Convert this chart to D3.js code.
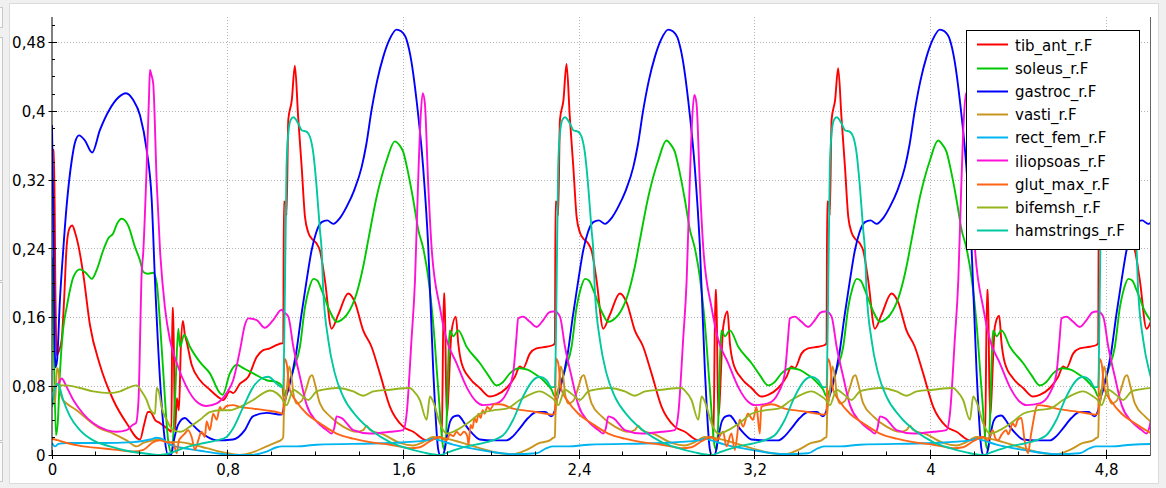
<!DOCTYPE html>
<html><head><meta charset="utf-8">
<script src="https://cdn.jsdelivr.net/npm/d3@7"></script>
<style>
html,body{margin:0;padding:0;background:#f0f0f0;}
svg{display:block;}
text{font-family:"DejaVu Sans",sans-serif;}
</style></head><body>
<svg id="c" width="1166" height="488"></svg>
<script>
// ---- data (time, value) ----
const tibAnt = [
[0,.355],[.009,.355],[.016,.180],[.021,.116],[.030,.120],[.044,.134],[.055,.180],[.067,.244],[.080,.264],[.092,.267],[.105,.259],[.120,.244],[.142,.211],[.173,.151],[.218,.105],[.279,.064],[.340,.037],[.401,.018],[.419,.035],[.437,.050],[.448,.050],[.469,.041],[.492,.037],[.514,.033],[.533,.029],[.544,.027],[.548,.171],[.552,.171],[.560,.029],[.569,.066],[.578,.052],[.587,.128],[.596,.156],[.605,.140],[.613,.132],[.636,.105],[.674,.087],[.719,.076],[.765,.066],[.780,.064],[.810,.074],[.825,.072],[.856,.083],[.894,.091],[.932,.114],[.962,.122],[.992,.124],[1.023,.128],[1.049,.130],
[1.053,.130],[1.056,.295],[1.064,.293],[1.068,.279],[1.076,.390],[1.092,.413],[1.106,.453],[1.121,.393],[1.137,.335],[1.152,.277],[1.167,.259],[1.182,.252],[1.205,.246],[1.220,.238],[1.243,.203],[1.273,.147],[1.303,.163],[1.349,.188],[1.379,.178],[1.417,.145],[1.455,.126],[1.493,.095],[1.539,.056],[1.599,.033],[1.645,.027],[1.706,.017],[1.749,.020],[1.775,.021],[1.784,.188],[1.788,.188],[1.797,.045],[1.820,.145],[1.839,.161],[1.850,.130],[1.865,.107],[1.903,.089],[1.948,.078],[1.994,.068],[2.024,.070],[2.070,.078],[2.108,.091],[2.130,.103],[2.145,.101],[2.176,.118],[2.206,.124],[2.252,.126],[2.282,.128],
[2.290,.130],[2.293,.295],[2.301,.293],[2.305,.279],[2.313,.390],[2.329,.413],[2.343,.455],[2.358,.393],[2.374,.335],[2.389,.277],[2.404,.259],[2.419,.252],[2.442,.246],[2.457,.238],[2.480,.203],[2.510,.147],[2.540,.163],[2.586,.188],[2.616,.178],[2.654,.145],[2.692,.126],[2.730,.095],[2.776,.056],[2.836,.033],[2.882,.027],[2.943,.017],[2.986,.020],[3.012,.021],[3.021,.192],[3.025,.192],[3.034,.045],[3.057,.150],[3.076,.167],[3.087,.130],[3.102,.107],[3.140,.089],[3.185,.078],[3.231,.068],[3.261,.070],[3.307,.078],[3.345,.091],[3.367,.103],[3.382,.101],[3.413,.118],[3.443,.124],[3.489,.126],[3.519,.128],
[3.527,.130],[3.530,.295],[3.538,.293],[3.542,.279],[3.550,.390],[3.566,.413],[3.580,.450],[3.595,.393],[3.611,.335],[3.626,.277],[3.641,.259],[3.656,.252],[3.679,.246],[3.694,.238],[3.717,.203],[3.747,.147],[3.777,.163],[3.823,.188],[3.853,.178],[3.891,.145],[3.929,.126],[3.967,.095],[4.013,.056],[4.073,.033],[4.119,.027],[4.180,.017],[4.223,.020],[4.249,.021],[4.258,.192],[4.262,.192],[4.271,.045],[4.294,.150],[4.313,.162],[4.324,.130],[4.339,.107],[4.377,.089],[4.422,.078],[4.468,.068],[4.498,.070],[4.544,.078],[4.582,.091],[4.604,.103],[4.619,.101],[4.650,.118],[4.680,.124],[4.726,.126],[4.756,.128],
[4.764,.130],[4.767,.295],[4.775,.293],[4.779,.279],[4.787,.390],[4.803,.413],[4.817,.453],[4.832,.393],[4.848,.335],[4.863,.277],[4.878,.259],[4.893,.252],[4.916,.246],[4.931,.238],[4.954,.203],[4.984,.147],[5.014,.163]
];
const soleus = [
[0,.230],[.007,.145],[.018,.023],[.027,.041],[.036,.095],[.050,.145],[.067,.172],[.082,.192],[.097,.207],[.127,.216],[.158,.211],[.181,.205],[.203,.215],[.233,.238],[.256,.252],[.279,.258],[.296,.269],[.317,.275],[.332,.273],[.347,.267],[.378,.242],[.400,.227],[.416,.213],[.438,.211],[.461,.212],[.477,.200],[.492,.153],[.507,.095],[.529,.017],[.545,.002],[.560,.064],[.575,.147],[.583,.126],[.602,.140],[.628,.126],[.674,.108],[.719,.095],[.765,.072],[.777,.070],[.810,.095],[.841,.105],[.871,.101],[.916,.095],[.977,.087],[1.023,.085],[1.050,.079],
[1.053,.068],[1.068,.076],[1.099,.099],[1.129,.126],[1.152,.172],[1.171,.194],[1.190,.205],[1.208,.203],[1.228,.192],[1.266,.167],[1.296,.155],[1.317,.157],[1.342,.163],[1.387,.188],[1.417,.219],[1.440,.250],[1.478,.300],[1.524,.343],[1.561,.365],[1.581,.361],[1.599,.353],[1.622,.328],[1.645,.297],[1.668,.262],[1.690,.241],[1.713,.207],[1.736,.153],[1.759,.076],[1.781,.010],[1.790,.006],[1.812,.145],[1.827,.138],[1.850,.145],[1.888,.126],[1.948,.107],[1.986,.093],[2.024,.081],[2.054,.085],[2.085,.095],[2.130,.101],[2.168,.099],[2.206,.093],[2.237,.087],[2.259,.081],[2.275,.076],
[2.290,.068],[2.305,.076],[2.336,.099],[2.366,.126],[2.389,.172],[2.408,.194],[2.427,.205],[2.445,.203],[2.465,.192],[2.503,.167],[2.533,.155],[2.554,.157],[2.579,.163],[2.624,.188],[2.654,.219],[2.677,.250],[2.715,.300],[2.761,.343],[2.798,.366],[2.818,.361],[2.836,.353],[2.859,.328],[2.882,.297],[2.905,.262],[2.927,.241],[2.950,.207],[2.973,.153],[2.996,.076],[3.018,.010],[3.027,.006],[3.049,.145],[3.064,.138],[3.087,.145],[3.125,.126],[3.185,.107],[3.223,.093],[3.261,.081],[3.291,.085],[3.322,.095],[3.367,.101],[3.405,.099],[3.443,.093],[3.474,.087],[3.496,.081],[3.512,.076],
[3.527,.068],[3.542,.076],[3.573,.099],[3.603,.126],[3.626,.172],[3.645,.194],[3.664,.205],[3.682,.203],[3.702,.192],[3.740,.167],[3.770,.155],[3.791,.157],[3.816,.163],[3.861,.188],[3.891,.219],[3.914,.250],[3.952,.300],[3.998,.343],[4.035,.366],[4.055,.361],[4.073,.353],[4.096,.328],[4.119,.297],[4.142,.262],[4.164,.241],[4.187,.207],[4.210,.153],[4.233,.076],[4.255,.010],[4.264,.006],[4.286,.145],[4.301,.138],[4.324,.145],[4.362,.126],[4.422,.107],[4.460,.093],[4.498,.081],[4.528,.085],[4.559,.095],[4.604,.101],[4.642,.099],[4.680,.093],[4.711,.087],[4.733,.081],[4.749,.076],
[4.764,.068],[4.779,.076],[4.810,.099],[4.840,.126],[4.863,.172],[4.882,.194],[4.901,.205],[4.919,.203],[4.939,.192],[4.977,.167],[5.007,.155]
];
const gastroc = [
[0,.384],[.005,.297],[.011,.145],[.016,.102],[.023,.110],[.036,.180],[.051,.238],[.067,.291],[.090,.343],[.105,.364],[.123,.372],[.150,.366],[.183,.352],[.218,.378],[.264,.403],[.302,.416],[.337,.421],[.370,.413],[.401,.395],[.431,.355],[.454,.297],[.469,.203],[.492,.087],[.514,.017],[.528,0],[.542,0],[.555,.017],[.574,.035],[.605,.043],[.628,.038],[.674,.027],[.750,.017],[.824,.018],[.878,.029],[.915,.045],[.977,.049],[1.046,.047],
[1.053,.052],[1.062,.064],[1.076,.076],[1.112,.119],[1.135,.162],[1.160,.204],[1.182,.238],[1.203,.259],[1.228,.271],[1.253,.273],[1.281,.269],[1.312,.276],[1.342,.289],[1.376,.308],[1.410,.335],[1.431,.361],[1.455,.401],[1.481,.436],[1.508,.463],[1.536,.483],[1.569,.495],[1.590,.493],[1.615,.483],[1.636,.459],[1.660,.413],[1.690,.335],[1.713,.244],[1.736,.099],[1.759,.006],[1.768,0],[1.781,0],[1.795,.017],[1.813,.039],[1.831,.045],[1.850,.046],[1.868,.041],[1.888,.033],[1.918,.024],[1.948,.018],[2.009,.017],[2.070,.017],[2.100,.022],[2.130,.031],[2.168,.043],[2.206,.050],[2.246,.050],[2.273,.045],
[2.290,.052],[2.299,.064],[2.313,.076],[2.349,.119],[2.372,.162],[2.397,.204],[2.419,.238],[2.440,.259],[2.465,.271],[2.490,.273],[2.518,.269],[2.549,.276],[2.579,.289],[2.613,.308],[2.647,.335],[2.668,.361],[2.692,.401],[2.718,.436],[2.745,.463],[2.773,.483],[2.806,.495],[2.827,.493],[2.852,.483],[2.873,.459],[2.897,.413],[2.927,.335],[2.950,.244],[2.973,.099],[2.996,.006],[3.005,0],[3.018,0],[3.032,.017],[3.050,.039],[3.068,.045],[3.087,.046],[3.105,.041],[3.125,.033],[3.155,.024],[3.185,.018],[3.246,.017],[3.307,.017],[3.337,.022],[3.367,.031],[3.405,.043],[3.443,.050],[3.483,.050],[3.510,.045],
[3.527,.052],[3.536,.064],[3.550,.076],[3.586,.119],[3.609,.162],[3.634,.204],[3.656,.238],[3.677,.259],[3.702,.271],[3.727,.273],[3.755,.269],[3.786,.276],[3.816,.289],[3.850,.308],[3.884,.335],[3.905,.361],[3.929,.401],[3.955,.436],[3.982,.463],[4.010,.483],[4.043,.495],[4.064,.493],[4.089,.483],[4.110,.459],[4.134,.413],[4.164,.335],[4.187,.244],[4.210,.099],[4.233,.006],[4.242,0],[4.255,0],[4.269,.017],[4.287,.039],[4.305,.045],[4.324,.046],[4.342,.041],[4.362,.033],[4.392,.024],[4.422,.018],[4.483,.017],[4.544,.017],[4.574,.022],[4.604,.031],[4.642,.043],[4.680,.050],[4.720,.050],[4.747,.045],
[4.764,.052],[4.773,.064],[4.787,.076],[4.823,.119],[4.846,.162],[4.871,.204],[4.893,.238],[4.914,.259],[4.939,.271],[4.964,.273],[4.992,.269],[5.023,.276]
];
const vasti = [
[0,.058],[.014,.064],[.023,.101],[.030,.097],[.036,.076],[.050,.064],[.067,.060],[.112,.052],[.173,.039],[.218,.031],[.279,.025],[.340,.017],[.386,.010],[.416,.014],[.461,.017],[.492,.018],[.522,.015],[.583,.015],[.643,.012],[.704,.008],[.780,.003],[.856,0],[.901,.002],[.977,.010],[1.023,.015],[1.046,.018],
[1.053,.021],[1.056,.048],[1.068,.072],[1.080,.103],[1.091,.091],[1.099,.072],[1.114,.060],[1.137,.063],[1.160,.079],[1.175,.091],[1.185,.093],[1.197,.083],[1.220,.060],[1.266,.045],[1.326,.033],[1.387,.027],[1.417,.029],[1.433,.034],[1.448,.029],[1.508,.024],[1.584,.014],[1.645,.011],[1.690,.015],[1.736,.021],[1.797,.019],[1.857,.015],[1.948,.008],[2.039,.002],[2.100,.001],[2.161,.006],[2.221,.014],[2.267,.017],[2.282,.020],
[2.290,.021],[2.293,.048],[2.305,.072],[2.317,.103],[2.328,.091],[2.336,.072],[2.351,.060],[2.374,.063],[2.397,.079],[2.412,.091],[2.422,.093],[2.434,.083],[2.457,.060],[2.503,.045],[2.563,.033],[2.624,.027],[2.654,.029],[2.670,.034],[2.685,.029],[2.745,.024],[2.821,.014],[2.882,.011],[2.927,.015],[2.973,.021],[3.034,.019],[3.094,.015],[3.185,.008],[3.276,.002],[3.337,.001],[3.398,.006],[3.458,.014],[3.504,.017],[3.519,.020],
[3.527,.021],[3.530,.048],[3.542,.072],[3.554,.103],[3.565,.091],[3.573,.072],[3.588,.060],[3.611,.063],[3.634,.079],[3.649,.091],[3.659,.093],[3.671,.083],[3.694,.060],[3.740,.045],[3.800,.033],[3.861,.027],[3.891,.029],[3.907,.034],[3.922,.029],[3.982,.024],[4.058,.014],[4.119,.011],[4.164,.015],[4.210,.021],[4.271,.019],[4.331,.015],[4.422,.008],[4.513,.002],[4.574,.001],[4.635,.006],[4.695,.014],[4.741,.017],[4.756,.020],
[4.764,.021],[4.767,.048],[4.779,.072],[4.791,.103],[4.802,.091],[4.810,.072],[4.825,.060],[4.848,.063],[4.871,.079],[4.886,.091],[4.896,.093],[4.908,.083],[4.931,.060],[4.977,.045],[5.037,.033]
];
const rectFem = [
[0,.014],[.014,.010],[.029,.013],[.067,.014],[.218,.014],[.370,.015],[.446,.018],[.477,.020],[.507,.018],[.537,.012],[.598,.008],[.674,.005],[.750,.002],[.825,0],[.901,0],[.977,.004],[1.023,.009],[1.046,.010],
[1.053,.010],[1.114,.010],[1.205,.012],[1.539,.014],[1.706,.017],[1.736,.019],[1.766,.017],[1.827,.012],[1.948,.006],[2.100,.001],[2.206,.002],[2.252,.008],[2.282,.010],
[2.290,.010],[2.351,.010],[2.442,.012],[2.776,.014],[2.943,.017],[2.973,.019],[3.003,.017],[3.064,.012],[3.185,.006],[3.337,.001],[3.443,.002],[3.489,.008],[3.519,.010],
[3.527,.010],[3.588,.010],[3.679,.012],[4.013,.014],[4.180,.017],[4.210,.019],[4.240,.017],[4.301,.012],[4.422,.006],[4.574,.001],[4.680,.002],[4.726,.008],[4.756,.010],
[4.764,.010],[4.825,.010],[4.916,.012],[5.250,.014]
];
const iliopsoas = [
[0,.074],[.014,.079],[.029,.083],[.044,.089],[.067,.079],[.097,.064],[.142,.048],[.188,.037],[.249,.029],[.294,.027],[.340,.029],[.367,.035],[.382,.037],[.394,.064],[.401,.134],[.407,.203],[.416,.238],[.431,.335],[.442,.419],[.446,.448],[.453,.442],[.461,.432],[.477,.316],[.492,.238],[.514,.172],[.537,.134],[.568,.107],[.613,.079],[.659,.062],[.704,.057],[.750,.060],[.795,.072],[.825,.087],[.856,.122],[.878,.151],[.894,.159],[.932,.157],[.969,.148],[1.007,.157],[1.046,.169],
[1.053,.167],[1.076,.161],[1.099,.126],[1.129,.091],[1.160,.058],[1.205,.039],[1.251,.029],[1.273,.025],[1.285,.031],[1.296,.045],[1.319,.043],[1.372,.029],[1.448,.025],[1.539,.027],[1.599,.029],[1.615,.048],[1.637,.134],[1.653,.203],[1.666,.308],[1.678,.390],[1.688,.421],[1.698,.409],[1.713,.316],[1.729,.240],[1.766,.172],[1.797,.134],[1.842,.107],[1.888,.079],[1.933,.062],[1.963,.058],[2.024,.060],[2.070,.072],[2.100,.095],[2.114,.134],[2.123,.159],[2.145,.161],[2.176,.155],[2.206,.149],[2.237,.157],[2.264,.166],[2.282,.167],
[2.290,.167],[2.313,.161],[2.336,.126],[2.366,.091],[2.397,.058],[2.442,.039],[2.488,.029],[2.510,.025],[2.522,.031],[2.533,.045],[2.556,.043],[2.609,.029],[2.685,.025],[2.776,.027],[2.836,.029],[2.852,.048],[2.874,.134],[2.890,.203],[2.903,.308],[2.915,.390],[2.925,.419],[2.935,.409],[2.950,.316],[2.966,.240],[3.003,.172],[3.034,.134],[3.079,.107],[3.125,.079],[3.170,.062],[3.200,.058],[3.261,.060],[3.307,.072],[3.337,.095],[3.351,.134],[3.360,.159],[3.382,.161],[3.413,.155],[3.443,.149],[3.474,.157],[3.501,.166],[3.519,.167],
[3.527,.167],[3.550,.161],[3.573,.126],[3.603,.091],[3.634,.058],[3.679,.039],[3.725,.029],[3.747,.025],[3.759,.031],[3.770,.045],[3.793,.043],[3.846,.029],[3.922,.025],[4.013,.027],[4.073,.029],[4.089,.048],[4.111,.134],[4.127,.203],[4.140,.308],[4.152,.390],[4.162,.421],[4.172,.409],[4.187,.316],[4.203,.240],[4.240,.172],[4.271,.134],[4.316,.107],[4.362,.079],[4.407,.062],[4.437,.058],[4.498,.060],[4.544,.072],[4.574,.095],[4.588,.134],[4.597,.159],[4.619,.161],[4.650,.155],[4.680,.149],[4.711,.157],[4.738,.166],[4.756,.167],
[4.764,.167],[4.787,.161],[4.810,.126],[4.840,.091],[4.871,.058],[4.916,.039],[4.962,.029],[4.984,.025],[4.996,.031],[5.007,.045]
];
const glutMax = [
[0,.019],[.029,.017],[.067,.014],[.142,.010],[.218,.008],[.294,.006],[.370,.004],[.416,.006],[.461,.015],[.492,.017],[.522,.015],[.552,.014],[.568,.002],[.578,.017],[.590,.021],[.605,.025],[.620,.029],[.636,.021],[.651,.006],[.666,.017],[.681,.027],[.696,.021],[.704,.039],[.719,.029],[.734,.048],[.750,.041],[.765,.056],[.774,.052],[.795,.057],[.825,.058],[.856,.056],[.916,.054],[.977,.052],[1.038,.049],[1.050,.048],
[1.053,.048],[1.058,.112],[1.068,.107],[1.083,.076],[1.114,.062],[1.160,.048],[1.220,.037],[1.296,.025],[1.372,.019],[1.448,.015],[1.539,.012],[1.630,.008],[1.675,.009],[1.721,.016],[1.766,.021],[1.797,.017],[1.812,.024],[1.827,.022],[1.842,.027],[1.859,.023],[1.876,.027],[1.891,.022],[1.897,.012],[1.906,.035],[1.915,.031],[1.924,.043],[1.933,.038],[1.942,.048],[1.952,.043],[1.961,.052],[1.970,.048],[1.982,.056],[1.995,.053],[2.013,.059],[2.039,.059],[2.100,.054],[2.176,.051],[2.252,.048],[2.275,.047],
[2.290,.048],[2.295,.112],[2.305,.107],[2.320,.076],[2.351,.062],[2.397,.048],[2.457,.037],[2.533,.025],[2.609,.019],[2.685,.015],[2.776,.012],[2.867,.008],[2.912,.009],[2.958,.016],[3.003,.021],[3.026,.017],[3.056,.027],[3.071,.010],[3.094,.025],[3.109,.006],[3.132,.041],[3.147,.033],[3.169,.048],[3.192,.041],[3.208,.056],[3.223,.025],[3.230,.056],[3.253,.058],[3.276,.059],[3.337,.054],[3.413,.051],[3.489,.048],[3.512,.047],
[3.527,.048],[3.532,.112],[3.542,.107],[3.557,.076],[3.588,.062],[3.634,.048],[3.694,.037],[3.770,.025],[3.846,.019],[3.922,.015],[4.013,.012],[4.104,.008],[4.149,.009],[4.195,.016],[4.240,.021],[4.262,.017],[4.284,.029],[4.295,.020],[4.307,.017],[4.325,.024],[4.345,.029],[4.355,.024],[4.375,.037],[4.386,.033],[4.398,.041],[4.414,.043],[4.429,.017],[4.444,.002],[4.459,.025],[4.489,.058],[4.527,.057],[4.574,.054],[4.650,.051],[4.726,.048],[4.749,.047],
[4.764,.048],[4.769,.112],[4.779,.107],[4.794,.076],[4.825,.062],[4.871,.048],[4.931,.037],[5.007,.025]
];
const bifemsh = [
[0,.073],[.018,.083],[.036,.081],[.067,.081],[.127,.078],[.188,.074],[.264,.072],[.310,.074],[.355,.079],[.386,.081],[.408,.074],[.431,.064],[.449,.052],[.469,.048],[.477,.078],[.488,.072],[.499,.056],[.522,.041],[.552,.029],[.583,.027],[.628,.033],[.674,.041],[.719,.050],[.765,.052],[.810,.052],[.856,.056],[.916,.064],[.962,.072],[.992,.075],[1.023,.072],[1.046,.066],
[1.053,.063],[1.068,.058],[1.099,.076],[1.114,.074],[1.144,.068],[1.167,.064],[1.205,.074],[1.235,.076],[1.296,.078],[1.372,.074],[1.417,.069],[1.463,.074],[1.539,.076],[1.630,.078],[1.645,.075],[1.675,.064],[1.706,.041],[1.721,.068],[1.736,.062],[1.766,.037],[1.797,.025],[1.842,.029],[1.903,.039],[1.948,.048],[2.009,.052],[2.070,.054],[2.130,.064],[2.191,.072],[2.221,.074],[2.267,.068],[2.287,.064],
[2.290,.063],[2.305,.058],[2.336,.076],[2.351,.074],[2.381,.068],[2.404,.064],[2.442,.074],[2.472,.076],[2.533,.078],[2.609,.074],[2.654,.069],[2.700,.074],[2.776,.076],[2.867,.078],[2.882,.075],[2.912,.064],[2.943,.041],[2.958,.068],[2.973,.062],[3.003,.037],[3.034,.025],[3.079,.029],[3.140,.039],[3.185,.048],[3.246,.052],[3.307,.054],[3.367,.064],[3.428,.072],[3.458,.074],[3.504,.068],[3.524,.064],
[3.527,.063],[3.542,.058],[3.573,.076],[3.588,.074],[3.618,.068],[3.641,.064],[3.679,.074],[3.709,.076],[3.770,.078],[3.846,.074],[3.891,.069],[3.937,.074],[4.013,.076],[4.104,.078],[4.119,.075],[4.149,.064],[4.180,.041],[4.195,.068],[4.210,.062],[4.240,.037],[4.271,.025],[4.316,.029],[4.377,.039],[4.422,.048],[4.483,.052],[4.544,.054],[4.604,.064],[4.665,.072],[4.695,.074],[4.741,.068],[4.761,.064],
[4.764,.063],[4.779,.058],[4.810,.076],[4.825,.074],[4.855,.068],[4.878,.064],[4.916,.074],[4.946,.076],[5.007,.078]
];
const hamstrings = [
[0,.056],[.009,.072],[.023,.083],[.032,.080],[.051,.064],[.082,.045],[.127,.029],[.188,.017],[.264,.010],[.340,.005],[.416,.002],[.492,0],[.537,.002],[.598,.008],[.674,.013],[.750,.017],[.795,.021],[.825,.031],[.871,.056],[.916,.079],[.954,.089],[.985,.091],[1.023,.083],[1.046,.079],
[1.053,.079],[1.060,.180],[1.068,.335],[1.076,.374],[1.087,.390],[1.099,.393],[1.121,.386],[1.137,.378],[1.160,.376],[1.175,.370],[1.190,.351],[1.205,.312],[1.220,.262],[1.228,.238],[1.235,.192],[1.258,.134],[1.288,.095],[1.326,.068],[1.387,.045],[1.463,.027],[1.539,.015],[1.615,.008],[1.690,.003],[1.766,0],[1.812,.004],[1.888,.010],[1.979,.015],[2.054,.023],[2.100,.041],[2.145,.068],[2.191,.087],[2.221,.091],[2.252,.087],[2.275,.079],
[2.290,.079],[2.297,.180],[2.305,.335],[2.313,.374],[2.324,.390],[2.336,.393],[2.358,.386],[2.374,.378],[2.397,.376],[2.412,.370],[2.427,.351],[2.442,.312],[2.457,.262],[2.465,.238],[2.472,.192],[2.495,.134],[2.525,.095],[2.563,.068],[2.624,.045],[2.700,.027],[2.776,.015],[2.852,.008],[2.927,.003],[3.003,0],[3.049,.004],[3.125,.010],[3.216,.015],[3.291,.023],[3.337,.041],[3.382,.068],[3.428,.087],[3.458,.091],[3.489,.087],[3.512,.079],
[3.527,.079],[3.534,.180],[3.542,.335],[3.550,.374],[3.561,.390],[3.573,.393],[3.595,.386],[3.611,.378],[3.634,.376],[3.649,.370],[3.664,.351],[3.679,.312],[3.694,.262],[3.702,.238],[3.709,.192],[3.732,.134],[3.762,.095],[3.800,.068],[3.861,.045],[3.937,.027],[4.013,.015],[4.089,.008],[4.164,.003],[4.240,0],[4.286,.004],[4.362,.010],[4.453,.015],[4.528,.023],[4.574,.041],[4.619,.068],[4.665,.087],[4.695,.091],[4.726,.087],[4.749,.079],
[4.764,.079],[4.771,.180],[4.779,.335],[4.787,.374],[4.798,.390],[4.810,.393],[4.832,.386],[4.848,.378],[4.871,.376],[4.886,.370],[4.901,.351],[4.916,.312],[4.931,.262],[4.939,.238],[4.946,.192],[4.969,.134],[4.999,.095],[5.037,.068]
];

const seriesNames = ["tib_ant_r.F","soleus_r.F","gastroc_r.F","vasti_r.F","rect_fem_r.F","iliopsoas_r.F","glut_max_r.F","bifemsh_r.F","hamstrings_r.F"];
const seriesData = [tibAnt, soleus, gastroc, vasti, rectFem, iliopsoas, glutMax, bifemsh, hamstrings];
const seriesColors = ["#ff0000","#00c800","#0000ff","#c8961e","#00b4f0","#ff10d8","#ff6414","#96b41e","#00c8a0"];

const xTickValues = [0,0.8,1.6,2.4,3.2,4,4.8];
const xTickLabels = ["0","0,8","1,6","2,4","3,2","4","4,8"];
const yTickValues = [0,0.08,0.16,0.24,0.32,0.4,0.48];
const yTickLabels = ["0","0,08","0,16","0,24","0,32","0,4","0,48"];

// ---- layout ----
const svg = d3.select("#c");
const L = 52, R = 1150, T = 17, B = 455;
const x = d3.scaleLinear().domain([0,5]).range([L,R]);
const y = d3.scaleLinear().domain([0,0.5097]).range([B,T]);

// window background / panel
svg.append("rect").attr("x",0).attr("y",0).attr("width",1166).attr("height",488).attr("fill","#f0f0f0");
svg.append("rect").attr("x",9.5).attr("y",3.5).attr("width",1149).attr("height",480).attr("fill","#fff").attr("stroke","#dcdcdc");
[[7,27],[37,280],[282,440],[442,481]].forEach(([a,b])=>{
  svg.append("rect").attr("x",-1).attr("y",a+0.5).attr("width",3.5).attr("height",b-a).attr("fill","#fafafa").attr("stroke","#c8c8c8");
});

// grid
const grid = svg.append("g");
yTickValues.filter(v=>v>0).forEach(v=>{
  const yy = Math.floor(y(v))+0.5;
  grid.append("line").attr("x1",L).attr("x2",R).attr("y1",yy).attr("y2",yy)
    .attr("stroke","#b4b4b4").attr("stroke-dasharray","1,2");
});
xTickValues.filter(v=>v>0).forEach(v=>{
  const xx = Math.floor(x(v))+0.5;
  grid.append("line").attr("x1",xx).attr("x2",xx).attr("y1",T).attr("y2",B)
    .attr("stroke","#b4b4b4").attr("stroke-dasharray","1,2");
});

// clip
svg.append("defs").append("clipPath").attr("id","plotclip")
  .append("rect").attr("x",L).attr("y",T-8).attr("width",R-L).attr("height",B-T+9.5);

// lines
const line = d3.line().x(d=>x(d[0])).y(d=>y(d[1])).curve(d3.curveMonotoneX);
const lg = svg.append("g").attr("clip-path","url(#plotclip)");
seriesData.forEach((data,i)=>{
  lg.append("path").datum(data).attr("d",line).attr("fill","none")
    .attr("stroke",seriesColors[i]).attr("stroke-width",1.9).attr("stroke-linejoin","round");
});

// axes (D3 axes, then restyled to match)
const yAxis = d3.axisLeft(y).tickValues(yTickValues).tickFormat((d,i)=>yTickLabels[i]).tickSizeInner(0).tickSizeOuter(0).tickPadding(6);
const gy = svg.append("g").attr("transform",`translate(${L-0.5},0)`).call(yAxis);
gy.select(".domain").attr("stroke","#000").attr("d",`M0.5,${T}V${B+1}`);
gy.selectAll("text").attr("font-size",15).attr("fill","#000").attr("font-family","DejaVu Sans").attr("dy","0.36em").attr("x",-6);
gy.selectAll(".tick line").remove();
const yMinor = d3.range(0,0.5001,0.02);
yMinor.forEach(v=>{
  const yy = Math.floor(y(v))+0.5;
  const major = yTickValues.some(t=>Math.abs(t-v)<1e-6);
  svg.append("line").attr("x1",major?48.5:52).attr("x2",major?57:55).attr("y1",yy).attr("y2",yy).attr("stroke","#000");
});

const xAxis = d3.axisBottom(x).tickValues(xTickValues).tickFormat((d,i)=>xTickLabels[i]).tickSizeInner(0).tickSizeOuter(0).tickPadding(9);
const gx = svg.append("g").attr("transform",`translate(0,${B+0.5})`).call(xAxis);
gx.select(".domain").attr("stroke","#000").attr("d",`M${L-1},0H${R}`);
gx.selectAll("text").attr("font-size",15).attr("fill","#000").attr("font-family","DejaVu Sans");
gx.selectAll(".tick line").remove();
d3.range(0,5.0001,0.2).forEach(v=>{
  const xx = Math.floor(x(v))+0.5;
  const major = xTickValues.some(t=>Math.abs(t-v)<1e-6);
  svg.append("line").attr("x1",xx).attr("x2",xx).attr("y1",major?450:451.5).attr("y2",major?459:455).attr("stroke","#000");
});

// right frame edge
svg.append("line").attr("x1",R+0.5).attr("x2",R+0.5).attr("y1",T).attr("y2",B+1).attr("stroke","#666");

// legend
const leg = svg.append("g");
leg.append("rect").attr("x",966.5).attr("y",30.5).attr("width",173).attr("height",219).attr("fill","#fff").attr("stroke","#000");
seriesNames.forEach((name,i)=>{
  const cy = 44.3 + 23.2*i;
  leg.append("line").attr("x1",977).attr("x2",1008).attr("y1",Math.round(cy)+0.5).attr("y2",Math.round(cy)+0.5)
    .attr("stroke",seriesColors[i]).attr("stroke-width",2);
  leg.append("text").attr("x",1015).attr("y",cy+6.2).attr("font-size",15).attr("fill","#000").text(name);
});
</script>
</body></html>
